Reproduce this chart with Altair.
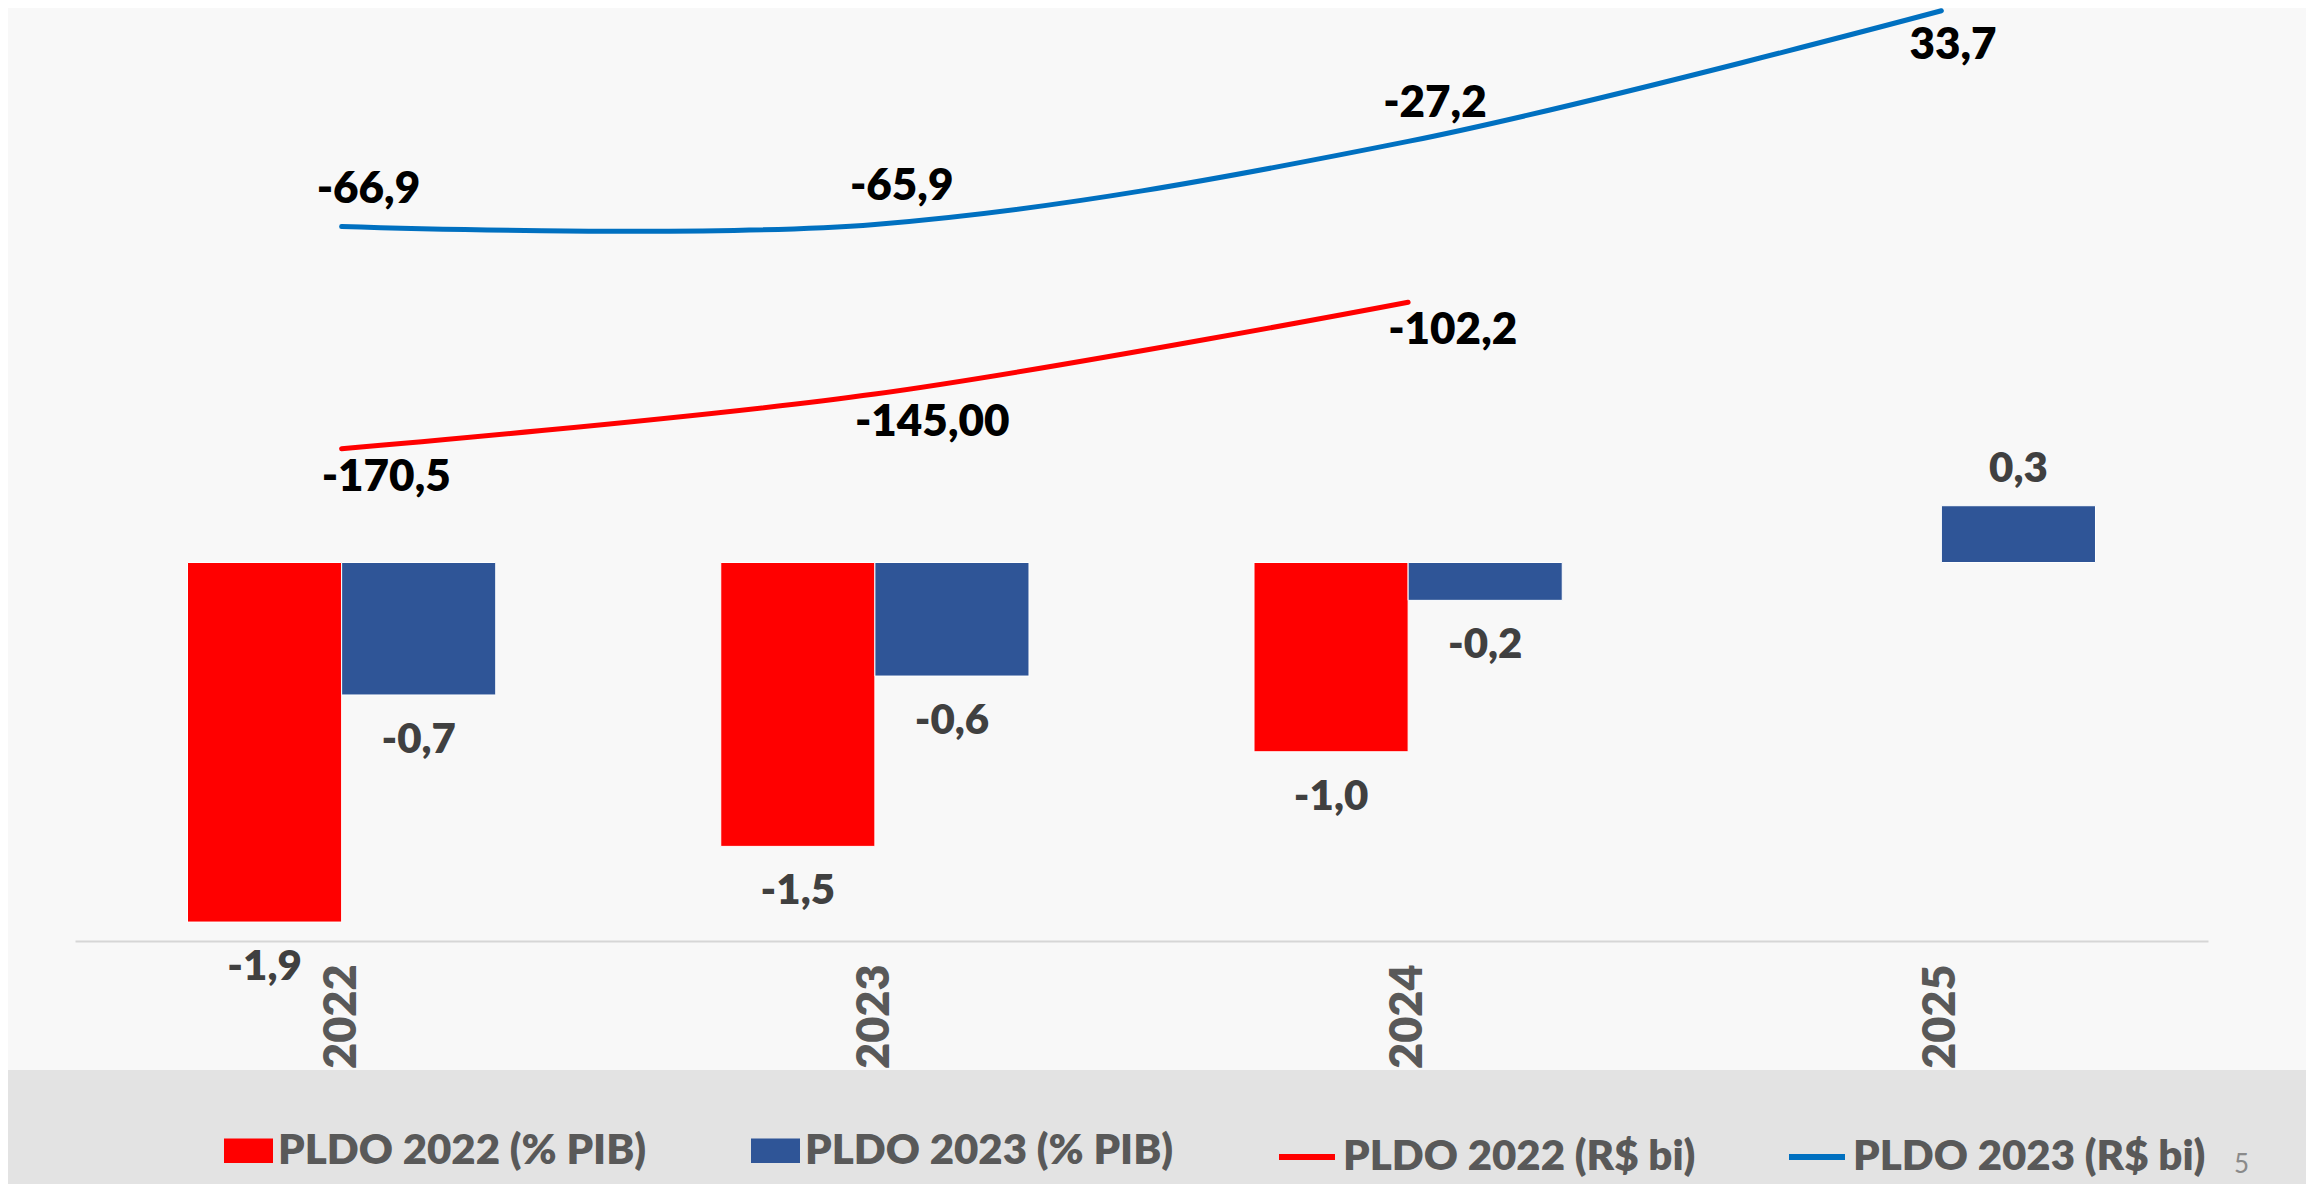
import altair as alt
import pandas as pd

# ---- data ----
years = ["2022", "2023", "2024", "2025"]

pib_2022 = [-1.9, -1.5, -1.0, None]
pib_2023 = [-0.7, -0.6, -0.2, 0.3]
rs_2022 = [-170.5, -145.0, -102.2, None]
rs_2023 = [-66.9, -65.9, -27.2, 33.7]

pib_2022_labels = ["-1,9", "-1,5", "-1,0", None]
pib_2023_labels = ["-0,7", "-0,6", "-0,2", "0,3"]
rs_2022_labels = ["-170,5", "-145,00", "-102,2", None]
rs_2023_labels = ["-66,9", "-65,9", "-27,2", "33,7"]

bar_series = ["PLDO 2022 (% PIB)", "PLDO 2023 (% PIB)"]
line_series = ["PLDO 2022 (R$ bi)", "PLDO 2023 (R$ bi)"]

bar_colors = ["#FF0000", "#2F5597"]
line_colors = ["#FF0000", "#0070C0"]

page_number = "5"


def build(series_list, values_list, labels_list):
    rows = []
    for s, vals, labs in zip(series_list, values_list, labels_list):
        for y, v, l in zip(years, vals, labs):
            if v is not None:
                rows.append({"ano": y, "serie": s, "valor": v, "rotulo": l})
    return pd.DataFrame(rows)


bars_df = build(bar_series, [pib_2022, pib_2023], [pib_2022_labels, pib_2023_labels])
lines_df = build(line_series, [rs_2022, rs_2023], [rs_2022_labels, rs_2023_labels])
band_df = pd.DataFrame({"k": [0]})
page_df = pd.DataFrame({"t": [page_number]})

FONT = "Lato"
W = 800

x_enc = alt.X(
    "ano:N",
    sort=years,
    scale=alt.Scale(domain=years, paddingInner=0, paddingOuter=0),
    axis=alt.Axis(
        title=None,
        labelAngle=-90,
        labelFont=FONT,
        labelFontWeight=W,
        labelFontSize=45,
        labelColor="#595959",
        labelPadding=23,
        ticks=False,
        grid=False,
        domainColor="#d6d6d6",
        domainWidth=2,
    ),
)

# background band at bottom (decoration)
band = alt.Chart(band_df).mark_rect(color="#e3e3e3").encode(
    x=alt.value(-80), x2=alt.value(2300), y=alt.value(1062), y2=alt.value(1200)
)

# slide page number (decoration)
page_txt = alt.Chart(page_df).mark_text(
    font=FONT, fontSize=26, color="#8a8a8a", align="left", baseline="alphabetic"
).encode(x=alt.value(2159), y=alt.value(1165), text="t:N")

y_bar = alt.Y("valor:Q", scale=alt.Scale(domain=[-2, 2.93], nice=False, zero=False), axis=None)
x_off = alt.XOffset("serie:N", scale=alt.Scale(domain=bar_series, paddingInner=0, paddingOuter=0.73))

legend_text = dict(
    labelFont=FONT,
    labelFontWeight=W,
    labelFontSize=42,
    labelColor="#595959",
    labelOffset=5,
    labelLimit=1000,
    padding=0,
    title=None,
    orient="none",
    direction="horizontal",
)

bars = alt.Chart(bars_df).mark_bar(stroke="white", strokeWidth=1).encode(
    x=x_enc,
    xOffset=x_off,
    y=y_bar,
    color=alt.Color(
        "serie:N",
        scale=alt.Scale(domain=bar_series, range=bar_colors),
        legend=alt.Legend(
            legendX=149,
            legendY=1118,
            symbolType="M-1,-0.5H1V0.5H-1Z",
            symbolSize=2401,
            symbolStrokeWidth=0,
            columnPadding=104,
            **legend_text,
        ),
    ),
)

bar_text_common = dict(font=FONT, fontWeight=W, fontSize=42, color="#404040", align="center", baseline="alphabetic")

bar_labels_neg = alt.Chart(bars_df).transform_filter("datum.valor < 0").mark_text(dy=58, **bar_text_common).encode(
    x=x_enc, xOffset=x_off, y=y_bar, text="rotulo:N"
)
bar_labels_pos = alt.Chart(bars_df).transform_filter("datum.valor >= 0").mark_text(dy=-24, **bar_text_common).encode(
    x=x_enc, xOffset=x_off, y=y_bar, text="rotulo:N"
)

bar_layer = alt.layer(band, page_txt, bars, bar_labels_neg, bar_labels_pos)

y_line = alt.Y("valor:Q", scale=alt.Scale(domain=[-400, 35], nice=False, zero=False), axis=None)

lines = alt.Chart(lines_df).mark_line(strokeWidth=5, interpolate="catmull-rom", strokeCap="round").encode(
    x=x_enc,
    y=y_line,
    stroke=alt.Stroke(
        "serie:N",
        scale=alt.Scale(domain=line_series, range=line_colors),
        legend=alt.Legend(
            legendX=1201,
            legendY=1118,
            symbolType="stroke",
            symbolSize=3136,
            symbolStrokeWidth=6,
            columnPadding=81,
            **legend_text,
        ),
    ),
)

line_text_common = dict(font=FONT, fontWeight=W, fontSize=44, color="#000000", align="left", baseline="alphabetic")

red_labels = alt.Chart(lines_df).transform_filter(
    alt.datum.serie == line_series[0]
).mark_text(dx=-20, dy=42, **line_text_common).encode(x=x_enc, y=y_line, text="rotulo:N")

blue_labels_up = alt.Chart(lines_df).transform_filter(
    (alt.datum.serie == line_series[1]) & (alt.datum.ano != years[-1])
).mark_text(dx=-25, dy=-24, **line_text_common).encode(x=x_enc, y=y_line, text="rotulo:N")

blue_labels_down = alt.Chart(lines_df).transform_filter(
    (alt.datum.serie == line_series[1]) & (alt.datum.ano == years[-1])
).mark_text(dx=-32, dy=48, **line_text_common).encode(x=x_enc, y=y_line, text="rotulo:N")

line_layer = alt.layer(lines, red_labels, blue_labels_up, blue_labels_down)

chart = (
    alt.layer(bar_layer, line_layer)
    .resolve_scale(y="independent", color="independent")
    .properties(
        width=2133,
        height=933,
        padding={"left": 67, "top": 0, "right": 98, "bottom": 243},
        autosize=alt.AutoSizeParams(type="none"),
        background="#f8f8f8",
    )
    .configure_view(stroke=None)
)

chart.save("out.html", embed_options={"renderer": "svg", "actions": False})
